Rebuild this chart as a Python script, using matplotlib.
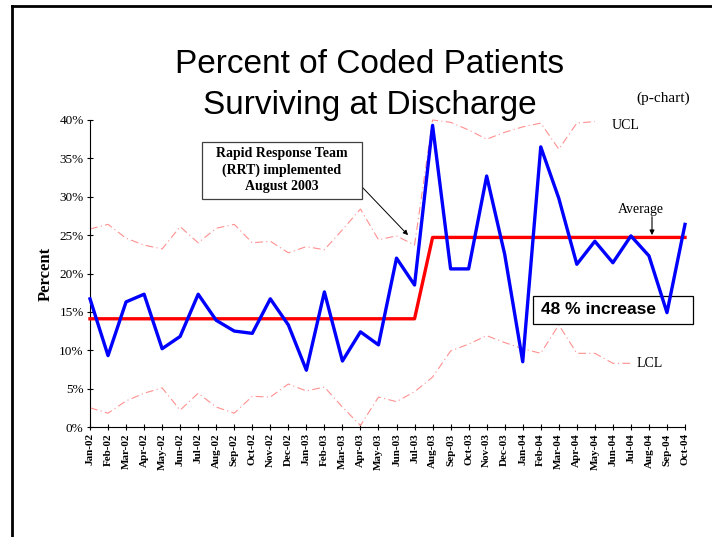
import numpy as np
import matplotlib.pyplot as plt
from matplotlib.lines import Line2D
from matplotlib.patches import Rectangle
from matplotlib.ticker import FuncFormatter

months = ['Jan-02', 'Feb-02', 'Mar-02', 'Apr-02', 'May-02', 'Jun-02', 'Jul-02', 'Aug-02',
          'Sep-02', 'Oct-02', 'Nov-02', 'Dec-02', 'Jan-03', 'Feb-03', 'Mar-03', 'Apr-03',
          'May-03', 'Jun-03', 'Jul-03', 'Aug-03', 'Sep-03', 'Oct-03', 'Nov-03', 'Dec-03',
          'Jan-04', 'Feb-04', 'Mar-04', 'Apr-04', 'May-04', 'Jun-04', 'Jul-04', 'Aug-04',
          'Sep-04', 'Oct-04']

# percent surviving at discharge
survival = [16.7, 9.3, 16.3, 17.3, 10.2, 11.8, 17.3, 13.9, 12.5, 12.2, 16.7, 13.3,
            7.4, 17.6, 8.6, 12.4, 10.7, 22.0, 18.5, 39.3, 20.6, 20.6, 32.7, 22.5,
            8.5, 36.5, 29.8, 21.2, 24.2, 21.4, 24.9, 22.3, 14.9, 26.4]

# average: before / after RRT
average = [14.1] * 19 + [24.7] * 15

# control limits (UCL runs to May-04, LCL to Jul-04)
ucl = [25.8, 26.4, 24.6, 23.7, 23.2, 26.1, 24.0, 25.9, 26.4, 24.0, 24.2, 22.7,
       23.5, 23.1, 25.7, 28.4, 24.4, 24.9, 23.7, 40.0, 39.7, 38.7, 37.5, 38.4,
       39.1, 39.6, 36.2, 39.6, 39.8]
lcl = [2.5, 1.8, 3.4, 4.4, 5.1, 2.2, 4.4, 2.6, 1.8, 4.0, 3.9, 5.6,
       4.7, 5.2, 2.6, 0.2, 3.9, 3.3, 4.6, 6.5, 9.9, 10.8, 11.9, 11.0,
       10.2, 9.6, 13.3, 9.6, 9.6, 8.3, 8.3]

serif = 'Liberation Serif'
sans = 'Liberation Sans'

fig = plt.figure(figsize=(7.12, 5.37), dpi=100)
ax = fig.add_axes([90 / 712, 1 - 427 / 537, 595 / 712, 307 / 537])

x = np.arange(len(months))
ax.plot(x[:len(ucl)], ucl, color='#ff9090', lw=0.8, ls=(0, (7, 3, 1, 3)), clip_on=False)
ax.plot(x[:len(lcl)], lcl, color='#ff9090', lw=0.8, ls=(0, (7, 3, 1, 3)), clip_on=False)
ax.plot(x, average, color='#ff0000', lw=2.4, clip_on=False, zorder=3)
ax.plot(x, survival, color='#0000ff', lw=2.4, clip_on=False, zorder=3)

ax.set_xlim(0, len(months) - 1)
ax.set_ylim(0, 40)
ax.set_yticks(np.arange(0, 41, 5))
ax.yaxis.set_major_formatter(FuncFormatter(lambda v, p: f'{v:.0f}%'))
ax.set_xticks(x)
ax.set_xticklabels(months, rotation=90, fontfamily=serif, fontweight='bold', fontsize=8)
for lab in ax.get_yticklabels():
    lab.set_fontfamily(serif)
    lab.set_fontsize(9.5)
ax.tick_params(direction='inout', length=5, width=0.8, pad=2)
ax.spines['top'].set_visible(False)
ax.spines['right'].set_visible(False)
ax.set_ylabel('Percent', fontfamily=serif, fontweight='bold', fontsize=12, labelpad=4)

fig.text(370 / 712, 1 - 85 / 537, 'Percent of Coded Patients\nSurviving at Discharge',
         ha='center', va='center', fontfamily=sans, fontsize=24, linespacing=1.42)
fig.text(663 / 712, 1 - 98 / 537, '(p-chart)', ha='center', va='center',
         fontfamily=serif, fontsize=11)

ax.text(28.95, 39.3, 'UCL', ha='left', va='center', fontfamily=serif, fontsize=10)
ax.text(30.3, 8.3, 'LCL', ha='left', va='center', fontfamily=serif, fontsize=10)
ax.text(30.56, 28.4, 'Average', ha='center', va='center', fontfamily=serif, fontsize=10)
ax.annotate('', xy=(31.17, 25.0), xytext=(31.17, 27.4),
            arrowprops=dict(arrowstyle='-|>', color='black', lw=0.8, mutation_scale=7,
                            shrinkA=0, shrinkB=0))

# RRT callout box and arrow
ax.add_patch(Rectangle((6.21, 29.71), 8.88, 7.42, fc='white', ec='#404040', lw=0.9,
                       clip_on=False, zorder=4))
ax.text(10.65, 33.45, 'Rapid Response Team\n(RRT) implemented\nAugust 2003',
        ha='center', va='center', fontfamily=serif, fontweight='bold', fontsize=10,
        linespacing=1.3, zorder=5)
ax.annotate('', xy=(17.64, 25.0), xytext=(15.09, 31.27),
            arrowprops=dict(arrowstyle='-|>', color='black', lw=0.7, mutation_scale=7,
                            shrinkA=0, shrinkB=0))

# "48 % increase" box (blue line runs over it)
ax.add_patch(Rectangle((24.57, 13.42), 8.87, 3.65, fc='white', ec='black', lw=0.9,
                       clip_on=False, zorder=2.5))
ax.text(28.2, 15.25, '48 % increase', ha='center', va='center', fontfamily=sans,
        fontweight='bold', fontsize=12.5, zorder=2.6)

# slide frame
fig.add_artist(Line2D([12 / 712, 12 / 712], [0, 1 - 6 / 537], color='black', lw=2,
                      transform=fig.transFigure))
fig.add_artist(Line2D([12 / 712, 1], [1 - 6 / 537, 1 - 6 / 537], color='black', lw=2,
                      transform=fig.transFigure))

fig.savefig('out.png', dpi=100)
